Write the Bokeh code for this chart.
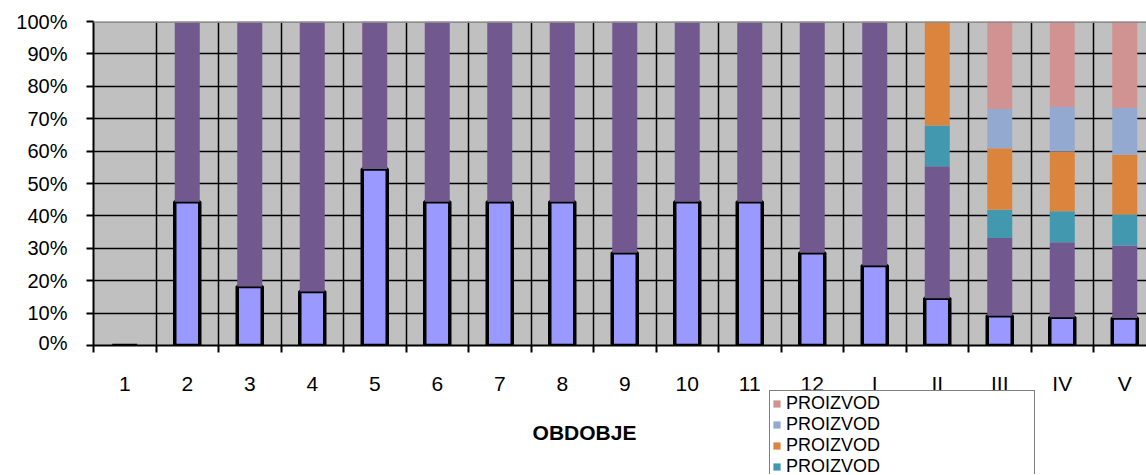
from bokeh.plotting import figure
from bokeh.layouts import column
from bokeh.models import (FixedTicker, NumeralTickFormatter, Span, Legend, LegendItem,
                          Label, ColumnDataSource, Range1d)
from bokeh.core.properties import value
from bokeh.embed import file_html
from bokeh.resources import INLINE

# ---- data (shares in % of each period) ----
periods = ["1", "2", "3", "4", "5", "6", "7", "8", "9", "10", "11", "12",
           "I", "II", "III", "IV", "V"]
share_lavender = [0, 44.4, 18.2, 16.7, 54.5, 44.4, 44.4, 44.4, 28.6, 44.4, 44.4, 28.6,
                  24.7, 14.6, 9.2, 8.7, 8.5]
share_purple = [0, 55.6, 81.8, 83.3, 45.5, 55.6, 55.6, 55.6, 71.4, 55.6, 55.6, 71.4,
                75.3, 40.7, 24.0, 23.2, 22.4]
share_teal = [0, 0, 0, 0, 0, 0, 0, 0, 0, 0, 0, 0, 0, 12.6, 8.7, 9.5, 9.5]
share_orange = [0, 0, 0, 0, 0, 0, 0, 0, 0, 0, 0, 0, 0, 32.1, 19.0, 18.5, 18.5]
share_lightblue = [0, 0, 0, 0, 0, 0, 0, 0, 0, 0, 0, 0, 0, 0, 12.1, 13.7, 14.4]
share_pink = [0, 0, 0, 0, 0, 0, 0, 0, 0, 0, 0, 0, 0, 0, 27.0, 26.4, 26.7]
series_label = "PROIZVOD"
axis_title = "OBDOBJE"

stack_names = ["lav", "pur", "teal", "ora", "lblue", "pink"]
stack_values = [share_lavender, share_purple, share_teal, share_orange,
                share_lightblue, share_pink]
colors = ["#9999FF", "#71588F", "#4198AF", "#DB843D", "#93A9CF", "#D19392"]
line_colors = ["black", None, None, None, None, None]
line_widths = [3.5, 0, 0, 0, 0, 0]
n_legend_visible = 4   # only the top four legend entries fit inside the window

xs = list(range(1, len(periods) + 1))
data = {"x": xs, "period": periods}
for name, vals in zip(stack_names, stack_values):
    data[name] = [v / 100.0 for v in vals]
source = ColumnDataSource(data)

FONT = "Liberation Sans"
W = 1146
H1, H2 = 353, 121
LEFT, TOP, BOTTOM = 93, 21, 8
cat_px = 62.5
frame_w = W - LEFT
xr = Range1d(0.5, 0.5 + frame_w / cat_px)

# ---------------- main chart ----------------
p = figure(width=W, height=H1, output_backend="svg", toolbar_location=None,
           x_range=xr, y_range=Range1d(0, 1),
           min_border_left=LEFT, min_border_right=0, min_border_top=TOP,
           min_border_bottom=BOTTOM)
p.background_fill_color = "#C0C0C0"
p.border_fill_color = "white"
p.outline_line_color = None

rs = p.vbar_stack(stack_names, x="x", width=0.4, source=source, fill_color=colors,
                  line_color=line_colors, line_width=line_widths)

boundaries = [i + 0.5 for i in range(0, len(periods))]
p.xgrid.ticker = FixedTicker(ticks=boundaries[1:])
p.xgrid.grid_line_color = "black"
p.xgrid.grid_line_width = 1.5
p.ygrid.ticker = FixedTicker(ticks=[i / 10 for i in range(1, 10)])
p.ygrid.grid_line_color = "black"
p.ygrid.grid_line_width = 1.5

p.add_layout(Span(location=1.0, dimension="width", line_color="#8C8C8C", line_width=3))

# bottom axis line with tick marks between categories (labels are drawn in the strip)
xa = p.xaxis[0]
xa.ticker = FixedTicker(ticks=[], minor_ticks=boundaries)
xa.major_tick_line_color = None
xa.major_tick_out = 0
xa.major_tick_in = 0
xa.major_label_standoff = 0
xa.minor_tick_out = 7
xa.minor_tick_in = 0
xa.minor_tick_line_color = "black"
xa.minor_tick_line_width = 2
xa.axis_line_color = "black"
xa.axis_line_width = 2

ya = p.yaxis[0]
ya.ticker = FixedTicker(ticks=[i / 10 for i in range(0, 11)])
ya.formatter = NumeralTickFormatter(format="0%")
ya.major_tick_out = 7
ya.major_tick_in = 0
ya.major_tick_line_color = "black"
ya.major_tick_line_width = 2
ya.minor_tick_line_color = None
ya.axis_line_color = "black"
ya.axis_line_width = 2
ya.major_label_standoff = 19
ya.major_label_text_font = FONT
ya.major_label_text_font_size = "20px"
ya.major_label_text_color = "black"

# ---------------- bottom strip: period labels, axis title, legend ----------------
# x shares the chart's category scale; y is in pixels measured down from the strip top
q = figure(width=W, height=H2, output_backend="svg", toolbar_location=None,
           x_range=xr, y_range=Range1d(H2, 0),
           x_axis_location=None, y_axis_location=None,
           min_border_left=LEFT, min_border_right=0, min_border_top=0,
           min_border_bottom=0)
q.background_fill_color = "white"
q.border_fill_color = "white"
q.outline_line_color = None
q.grid.visible = False

LABEL_ROW_Y = 30
TITLE_Y = 79
LEGEND_TOP = 39

q.text(x="x", y=LABEL_ROW_Y, text="period", source=source, text_font=value(FONT),
       text_font_size="21px", text_color="black", text_align="center",
       text_baseline="middle")

q.add_layout(Label(x=8.356, y=TITLE_Y, text=axis_title, text_font=FONT,
                   text_font_size="21px", text_font_style="bold", text_color="black",
                   text_align="center", text_baseline="middle"))

rs2 = q.vbar_stack(stack_names, x="x", width=0.4, source=source, fill_color=colors,
                   line_color=line_colors, line_width=line_widths)
for r in rs2:
    r.visible = False

PAD = 2
leg_h = n_legend_visible * 21 + 2 * PAD
items = [LegendItem(label=series_label, renderers=[r])
         for r in list(reversed(rs2))[:n_legend_visible]]
legend = Legend(items=items, location=(769 - LEFT, H2 - LEGEND_TOP - leg_h), padding=PAD,
                spacing=0, margin=0, label_height=21, label_width=246, glyph_width=9,
                glyph_height=9, label_standoff=5, label_text_font=FONT,
                label_text_font_size="18px", label_text_color="black",
                border_line_color="black", border_line_width=1.5,
                background_fill_color="white", background_fill_alpha=1.0,
                inactive_fill_alpha=0.0)
q.add_layout(legend)

layout = column(p, q, spacing=0)
open("out.html", "w").write(file_html(layout, INLINE))
